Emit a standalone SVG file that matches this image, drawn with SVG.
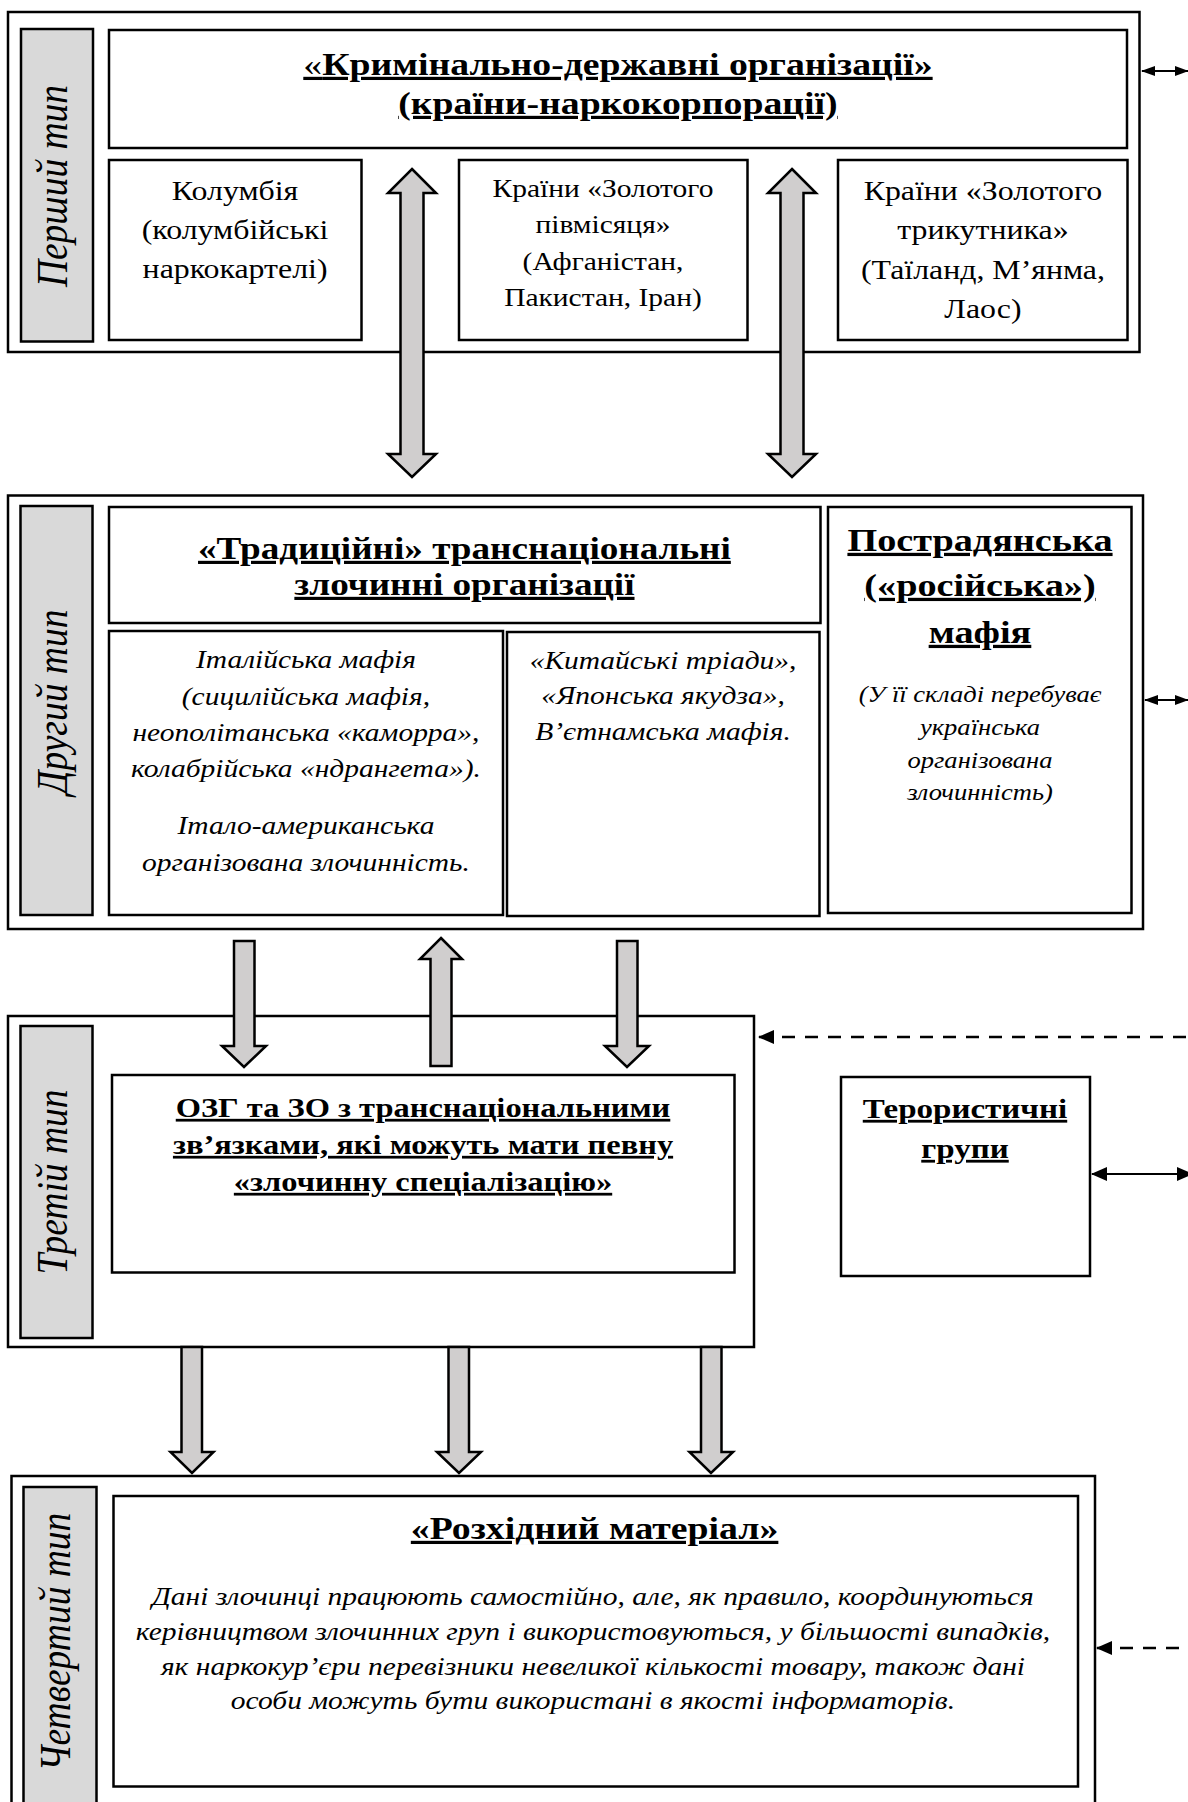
<svg xmlns="http://www.w3.org/2000/svg" width="1188" height="1802" viewBox="0 0 1188 1802">
<style>
text{font-family:"Liberation Serif","Times New Roman",serif;fill:#000}
.s{transform:scale(1.18,1)}
.box{fill:#fff;stroke:#000;stroke-width:2.5}
.lab{fill:#d9d9d9;stroke:#000;stroke-width:2.5}
.lt{font-style:italic;font-size:37.5px;text-anchor:middle}
.bt{font-weight:bold;text-anchor:middle;text-decoration:underline;text-decoration-thickness:3px}
.rt{font-size:27px;text-anchor:middle}
.it{font-style:italic;font-size:25px;text-anchor:middle}
.big{fill:#d0cece;stroke:#000;stroke-width:2.5;stroke-linejoin:miter}
.thin{fill:none;stroke:#000;stroke-width:2}
.dash{fill:none;stroke:#000;stroke-width:2.5;stroke-dasharray:13 10}
</style>
<defs>
<marker id="ah" viewBox="0 0 16 14" refX="15" refY="7" markerWidth="16" markerHeight="14" markerUnits="userSpaceOnUse" orient="auto-start-reverse">
<path d="M0,0 L16,7 L0,14 Z" fill="#000"/>
</marker>
<marker id="ahs" viewBox="0 0 14 10" refX="13" refY="5" markerWidth="14" markerHeight="10" markerUnits="userSpaceOnUse" orient="auto-start-reverse">
<path d="M0,0 L14,5 L0,10 Z" fill="#000"/>
</marker>
</defs>

<g id="type1">
<rect class="box" x="8" y="12" width="1131.5" height="340"/>
<rect class="lab" x="21" y="29" width="72" height="312.5"/>
<text class="lt" transform="translate(67,186) scale(1.18,1) rotate(-90)">Перший тип</text>
</g>
<g id="type1-title">
<rect class="box" x="109" y="30" width="1018" height="118"/>
<text class="bt s" style="font-size:32px" x="523.7" y="75"><tspan style="font-weight:normal;text-decoration:none">«</tspan>Кримінально-державні організації»</text>
<text class="bt s" style="font-size:32px" x="523.7" y="114">(країни-наркокорпорації)</text>
</g>
<g id="colombia">
<rect class="box" x="109" y="160" width="252.5" height="180"/>
<text class="rt s" x="199.2" y="200">Колумбія</text>
<text class="rt s" x="199.2" y="239">(колумбійські</text>
<text class="rt s" x="199.2" y="278">наркокартелі)</text>
</g>
<g id="crescent">
<rect class="box" x="459" y="160" width="288.5" height="180"/>
<text class="rt s" style="font-size:25px" x="511" y="197">Країни «Золотого</text>
<text class="rt s" style="font-size:25px" x="511" y="233">півмісяця»</text>
<text class="rt s" style="font-size:25px" x="511" y="270">(Афганістан,</text>
<text class="rt s" style="font-size:25px" x="511" y="306">Пакистан, Іран)</text>
</g>
<g id="triangle">
<rect class="box" x="838" y="160" width="289.5" height="180"/>
<text class="rt s" x="833" y="200">Країни «Золотого</text>
<text class="rt s" x="833" y="239">трикутника»</text>
<text class="rt s" x="833" y="279">(Таїланд, М’янма,</text>
<text class="rt s" x="833" y="318">Лаос)</text>
</g>

<g id="type2">
<rect class="box" x="8" y="495.5" width="1135" height="433.5"/>
<rect class="lab" x="20.5" y="506" width="72" height="409"/>
<text class="lt" transform="translate(67,702) scale(1.18,1) rotate(-90)">Другий тип</text>
</g>
<g id="type2-title">
<rect class="box" x="109" y="507" width="711.5" height="116"/>
<text class="bt s" style="font-size:31.5px" x="393.6" y="559">«Традиційні» транснаціональні</text>
<text class="bt s" style="font-size:31.5px" x="393.6" y="595">злочинні організації</text>
</g>
<g id="italian">
<rect class="box" x="109" y="631" width="394" height="284"/>
<text class="it s" x="259.3" y="668">Італійська мафія</text>
<text class="it s" x="259.3" y="705">(сицилійська мафія,</text>
<text class="it s" x="259.3" y="741">неополітанська «каморра»,</text>
<text class="it s" x="259.3" y="777">колабрійська «ндрангета»).</text>
<text class="it s" x="259.3" y="834">Італо-американська</text>
<text class="it s" x="259.3" y="871">організована злочинність.</text>
</g>
<g id="asian">
<rect class="box" x="507" y="632" width="312.5" height="284"/>
<text class="it s" x="561.9" y="669">«Китайські тріади»,</text>
<text class="it s" x="561.9" y="704">«Японська якудза»,</text>
<text class="it s" x="561.9" y="740">В’єтнамська мафія.</text>
</g>
<g id="postsoviet">
<rect class="box" x="828" y="507" width="303.5" height="406"/>
<text class="bt s" style="font-size:32.4px" x="830.5" y="551">Пострадянська</text>
<text class="bt s" style="font-size:32.4px" x="830.5" y="596">(«російська»)</text>
<text class="bt s" style="font-size:32.4px" x="830.5" y="643">мафія</text>
<text class="it s" style="font-size:22.5px" x="830.5" y="702">(У її складі перебуває</text>
<text class="it s" style="font-size:22.5px" x="830.5" y="735">українська</text>
<text class="it s" style="font-size:22.5px" x="830.5" y="768">організована</text>
<text class="it s" style="font-size:22.5px" x="830.5" y="800">злочинність)</text>
</g>

<g id="type3">
<rect class="box" x="8" y="1016" width="746" height="331"/>
<rect class="lab" x="20.5" y="1026" width="72" height="312"/>
<text class="lt" transform="translate(67,1182) scale(1.18,1) rotate(-90)">Третій тип</text>
</g>
<g id="ozg">
<rect class="box" x="112" y="1075" width="622.5" height="197.5"/>
<text class="bt s" style="font-size:27.5px" x="358.5" y="1117">ОЗГ та ЗО з транснаціональними</text>
<text class="bt s" style="font-size:27.5px" x="358.5" y="1154">зв’язками, які можуть мати певну</text>
<text class="bt s" style="font-size:27.5px" x="358.5" y="1191">«злочинну спеціалізацію»</text>
</g>
<g id="terror">
<rect class="box" x="841" y="1077" width="249" height="199"/>
<text class="bt s" style="font-size:28px" x="817.8" y="1118">Терористичні</text>
<text class="bt s" style="font-size:28px" x="817.8" y="1158">групи</text>
</g>

<g id="type4">
<rect class="box" x="11.5" y="1476" width="1083.5" height="340"/>
<rect class="lab" x="23.5" y="1487" width="73" height="330"/>
<text class="lt" transform="translate(70,1642) scale(1.18,1) rotate(-90)">Четвертий тип</text>
</g>
<g id="material">
<rect class="box" x="113.5" y="1496" width="964.5" height="290.5"/>
<text class="bt s" style="font-size:32px" x="503.9" y="1539">«Розхідний матеріал»</text>
<text class="it s" x="502.5" y="1605">Дані злочинці працюють самостійно, але, як правило, координуються</text>
<text class="it s" x="502.5" y="1640">керівництвом злочинних груп і використовуються, у більшості випадків,</text>
<text class="it s" x="502.5" y="1675">як наркокур’єри перевізники невеликої кількості товару, також дані</text>
<text class="it s" x="502.5" y="1709">особи можуть бути використані в якості інформаторів.</text>
</g>

<g id="connectors">
<path class="big" d="M412,169 L436,193 L423.5,193 L423.5,454 L436,454 L412,477 L388,454 L400.5,454 L400.5,193 L388,193 Z"/>
<path class="big" d="M792,169 L816,193 L803.5,193 L803.5,454 L816,454 L792,477 L768,454 L780.5,454 L780.5,193 L768,193 Z"/>
<path class="big" d="M234,941 L254.5,941 L254.5,1046 L266,1046 L244,1067 L222,1046 L234,1046 Z"/>
<path class="big" d="M441,938 L462,959 L451.5,959 L451.5,1066 L430.5,1066 L430.5,959 L420,959 Z"/>
<path class="big" d="M617,941 L637.5,941 L637.5,1046 L649,1046 L627,1067 L605,1046 L617,1046 Z"/>
<path class="big" d="M181.5,1347 L202,1347 L202,1452 L213.5,1452 L192,1473 L170.5,1452 L181.5,1452 Z"/>
<path class="big" d="M448.5,1347 L469,1347 L469,1452 L481,1452 L459,1473 L437,1452 L448.5,1452 Z"/>
<path class="big" d="M701,1347 L721.5,1347 L721.5,1452 L733,1452 L711,1473 L689.5,1452 L701,1452 Z"/>
<line class="thin" x1="1142" y1="71" x2="1188" y2="71" marker-start="url(#ahs)" marker-end="url(#ahs)"/>
<line class="thin" x1="1145" y1="700" x2="1188" y2="700" marker-start="url(#ahs)" marker-end="url(#ahs)"/>
<line class="thin" x1="1092" y1="1174" x2="1192" y2="1174" marker-start="url(#ah)" marker-end="url(#ah)"/>
<line class="dash" x1="759" y1="1037" x2="1188" y2="1037" marker-start="url(#ah)"/>
<line class="dash" x1="1097" y1="1648" x2="1188" y2="1648" marker-start="url(#ah)"/>
</g>
</svg>
